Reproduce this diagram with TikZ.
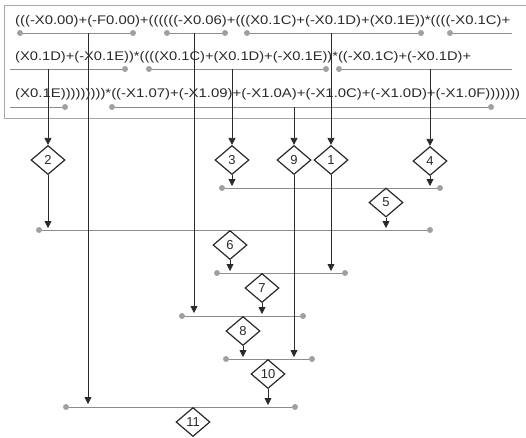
\documentclass[tikz,border=0pt]{standalone}
\usepackage{fontspec}
\setmainfont{Liberation Sans}
\usetikzlibrary{shapes.geometric,arrows.meta}
\definecolor{ink}{HTML}{2A2A2A}
\definecolor{rulec}{HTML}{8C8C8C}
\definecolor{dotc}{HTML}{A0A0A0}
\definecolor{boxc}{HTML}{A8A8A8}
\begin{document}
\begin{tikzpicture}[x=1pt,y=-1pt,
 dia/.style={diamond, draw=ink, line width=1.2pt, fill=white, minimum width=34pt, minimum height=29pt, inner sep=0pt, font=\fontsize{13}{13}\selectfont, text=ink},
 flow/.style={draw=ink, line width=0.8pt, -{Triangle[width=7pt,length=7pt]}},
 uline/.style={draw=rulec, line width=0.8pt},
 pin/.style={circle, fill=dotc, inner sep=0pt, minimum size=6pt},
 txt/.style={anchor=west, inner sep=0pt, text=ink, font=\fontsize{12.5}{12.5}\selectfont}]
\useasboundingbox (0,0) rectangle (526,437);
% box
\draw[boxc, line width=0.9pt] (526,5) -- (4,5) -- (4,118) -- (526,118);
% text rows
\node[txt] (r1) at (15,21) {\resizebox{495pt}{\height}{(((-X0.00)+(-F0.00)+((((((-X0.06)+(((X0.1C)+(-X0.1D)+(X0.1E))*((((-X0.1C)+}};
\node[txt] (r2) at (15,57) {\resizebox{456pt}{\height}{(X0.1D)+(-X0.1E))*((((X0.1C)+(X0.1D)+(-X0.1E))*((-X0.1C)+(-X0.1D)+}};
\node[txt] (r3) at (15,94) {\resizebox{505pt}{\height}{(X0.1E)))))))))*((-X1.07)+(-X1.09)+(-X1.0A)+(-X1.0C)+(-X1.0D)+(-X1.0F)))))))}};
% underline end points
\node[pin] (a1) at (20,33) {}; \node[pin] (a2) at (133,33) {};
\node[pin] (b1) at (167,33) {}; \node[pin] (b2) at (225,33) {};
\node[pin] (c1) at (247,33) {}; \node[pin] (c2) at (421,33) {};
\node[pin] (e1) at (450,33) {}; \coordinate (e2) at (512,33);
\coordinate (f1) at (10,69); \node[pin] (f2) at (125,69) {};
\node[pin] (g1) at (149,69) {}; \node[pin] (g2) at (326,69) {};
\node[pin] (h1) at (339,69) {}; \coordinate (h2) at (512,69);
\coordinate (i1) at (10,107); \node[pin] (i2) at (65,107) {};
\node[pin] (j1) at (112,107) {}; \node[pin] (j2) at (491,107) {};
\draw[uline] (a1) -- (a2); \draw[uline] (b1) -- (b2); \draw[uline] (c1) -- (c2);
\draw[uline] (e1) -- (e2); \draw[uline] (f1) -- (f2); \draw[uline] (g1) -- (g2);
\draw[uline] (h1) -- (h2); \draw[uline] (i1) -- (i2); \draw[uline] (j1) -- (j2);
% lower horizontal lines
\node[pin] (la1) at (222,188) {}; \node[pin] (la2) at (440,188) {};
\node[pin] (lb1) at (39,230) {};  \node[pin] (lb2) at (430,230) {};
\node[pin] (lc1) at (217,273) {}; \node[pin] (lc2) at (345,273) {};
\node[pin] (ld1) at (182,316) {}; \node[pin] (ld2) at (303,316) {};
\node[pin] (le1) at (226,359) {}; \node[pin] (le2) at (312,359) {};
\node[pin] (lf1) at (66,407) {};  \node[pin] (lf2) at (295,407) {};
\foreach \p in {a,b,c,d,e,f}{\draw[uline] (l\p1) -- (l\p2);}
% diamonds
\node[dia] (d2) at (48,160) {2};
\node[dia] (d3) at (232,160) {3};
\node[dia] (d9) at (294,160) {9};
\node[dia] (d1) at (331,160) {1};
\node[dia] (d4) at (430,161) {4};
\node[dia] (d5) at (386,202.5) {5};
\node[dia] (d6) at (230,245) {6};
\node[dia] (d7) at (262,288) {7};
\node[dia] (d8) at (243,331) {8};
\node[dia] (d10) at (268,374) {10};
\node[dia] (d11) at (193,422) {11};
% start points on underlines
\coordinate (s88) at (88,33);
\coordinate (s194) at (194,33);
\coordinate (s331) at (331,33);
\coordinate (s48) at (48,69);
\coordinate (s232) at (232,69);
\coordinate (s430) at (430,69);
\coordinate (s294) at (294,107);
% targets on lower lines
\coordinate (t48) at (48,230);
\coordinate (t232) at (232,188);
\coordinate (t430) at (430,188);
\coordinate (t386) at (386,230);
\coordinate (t230) at (230,273);
\coordinate (t331) at (331,273);
\coordinate (t194) at (194,316);
\coordinate (t262) at (262,316);
\coordinate (t243) at (243,359);
\coordinate (t294) at (294,359);
\coordinate (t88) at (88,407);
\coordinate (t268) at (268,407);
% connectors
\draw[flow] (s48) -- (d2.north);
\draw[flow] (s232) -- (d3.north);
\draw[flow] (s294) -- (d9.north);
\draw[flow] (s331) -- (d1.north);
\draw[flow] (s430) -- (d4.north);
\draw[flow, shorten >=2pt] (d2.south) -- (t48);
\draw[flow, shorten >=2pt] (d3.south) -- (t232);
\draw[flow, shorten >=2pt] (d4.south) -- (t430);
\draw[flow, shorten >=2pt] (d5.south) -- (t386);
\draw[flow, shorten >=2pt] (d6.south) -- (t230);
\draw[flow, shorten >=2pt] (d1.south) -- (t331);
\draw[flow, shorten >=3pt] (s194) -- (t194);
\draw[flow, shorten >=2pt] (d7.south) -- (t262);
\draw[flow, shorten >=2pt] (d8.south) -- (t243);
\draw[flow, shorten >=2pt] (d9.south) -- (t294);
\draw[flow, shorten >=3pt] (s88) -- (t88);
\draw[flow, shorten >=2pt] (d10.south) -- (t268);
\end{tikzpicture}
\end{document}
